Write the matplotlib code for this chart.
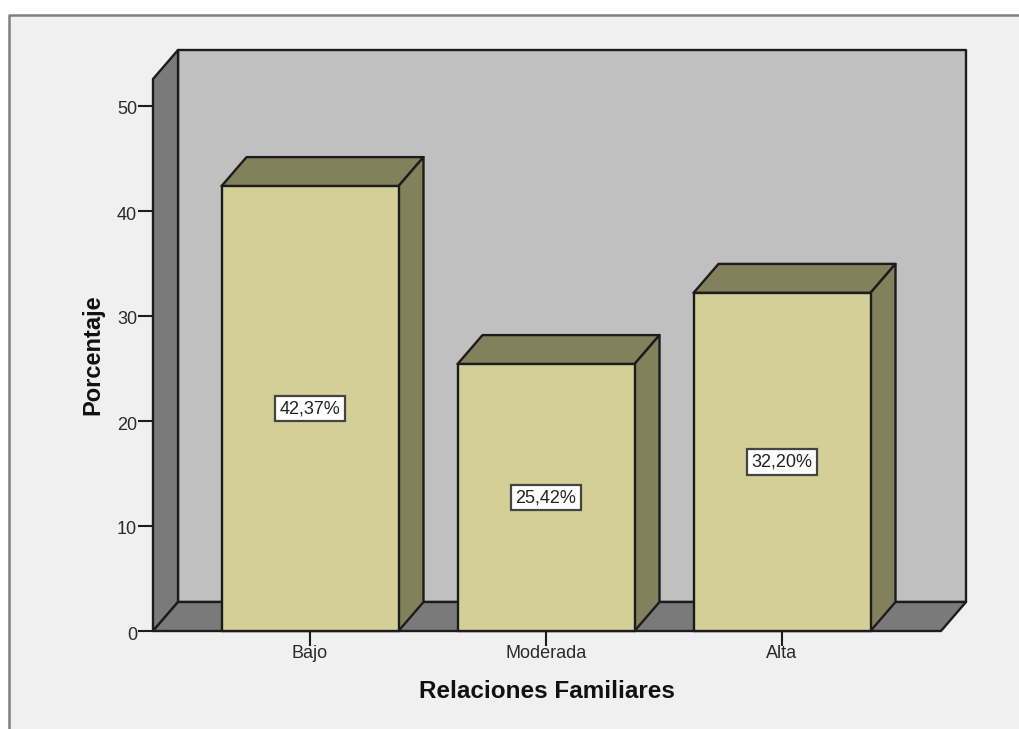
import numpy as np
import matplotlib
matplotlib.use("Agg")
import matplotlib.pyplot as plt
from matplotlib.patches import Polygon, Rectangle
from matplotlib.transforms import ScaledTranslation

plt.rcParams['font.family'] = ['Liberation Sans', 'DejaVu Sans']

# Daten
categorias = ["Bajo", "Moderada", "Alta"]
porcentajes = [42.37, 25.42, 32.20]
etiquetas = ["42,37%", "25,42%", "32,20%"]
yticks = [0, 10, 20, 30, 40, 50]

W, H = 1019, 729
# Achsen-Rahmen in Pixeln (vordere Ebene)
px_left, px_right, px_bottom, px_top = 153, 941, 631, 79
px_per_cat = 236.0
px_per_val = 10.5
x_first = 310

ancho = 177 / px_per_cat
dx = 25 / px_per_cat     # Tiefe in x
dy = 29 / px_per_val     # Tiefe in y

borde = '#1c1c1c'
lw = 1.7

fig = plt.figure(figsize=(W / 100, H / 100), dpi=100, facecolor='white')

# Fensterhintergrund
fig.patches.append(Rectangle((9 / W, 0), (W - 9) / W, (H - 15) / H, transform=fig.transFigure,
                             facecolor='#f0f0f0', edgecolor='none', zorder=-2))
fig.add_artist(plt.Line2D([9 / W, 9 / W, 1], [0, 1 - 15 / H, 1 - 15 / H],
                          color='#808080', lw=1.8))

ax = fig.add_axes([px_left / W, 1 - px_bottom / H, (px_right - px_left) / W, (px_bottom - px_top) / H])
ax.patch.set_alpha(0)
xmin = (px_left - x_first) / px_per_cat
xmax = (px_right - x_first) / px_per_cat
ymax = (px_bottom - px_top) / px_per_val
ax.set_xlim(xmin, xmax)
ax.set_ylim(0, ymax)


def poly(pts, color, z):
    ax.add_patch(Polygon(pts, closed=True, facecolor=color, edgecolor=borde, lw=lw,
                         joinstyle='round', clip_on=False, zorder=z))


# Rueckwand, Seitenwand, Boden
poly([(xmin + dx, dy), (xmax + dx, dy), (xmax + dx, ymax + dy), (xmin + dx, ymax + dy)], '#c0c0c0', 1)
poly([(xmin, 0), (xmin + dx, dy), (xmin + dx, ymax + dy), (xmin, ymax)], '#7a7a7a', 2)
poly([(xmin, 0), (xmax, 0), (xmax + dx, dy), (xmin + dx, dy)], '#7a7a7a', 2)

# Balken
for i, v in enumerate(porcentajes):
    l, r = i - ancho / 2, i + ancho / 2
    poly([(l, v), (r, v), (r + dx, v + dy), (l + dx, v + dy)], '#83805c', 3)
    poly([(r, 0), (r + dx, dy), (r + dx, v + dy), (r, v)], '#83805c', 3)
    ax.bar(i, v, width=ancho, color='#d3cf97', edgecolor=borde, lw=lw, zorder=4, clip_on=False)
    ax.text(i, v / 2, etiquetas[i], ha='center', va='center', fontsize=13, color='#222222', zorder=6,
            bbox=dict(boxstyle='square,pad=0.24', facecolor='white', edgecolor='#444444', lw=1.6))

for s in ['top', 'right', 'bottom', 'left']:
    ax.spines[s].set_visible(False)

ax.set_xticks(range(len(categorias)))
ax.set_xticklabels(categorias)
ax.set_yticks(yticks)
ax.tick_params(axis='both', length=11, width=1.5, color=borde, labelcolor='#2a2a2a', labelsize=13)
ax.tick_params(axis='x', pad=-1)
ax.tick_params(axis='y', pad=0.5)

# Y-Beschriftung sitzt im Original etwas unter dem Strich
versatz = ScaledTranslation(0, -2 / 100, fig.dpi_scale_trans)
for t in ax.get_yticklabels():
    t.set_transform(t.get_transform() + versatz)

fig.text(93 / W, 1 - 355 / H, "Porcentaje", rotation=90, ha='center', va='center',
         fontsize=17, fontweight='bold', color='#111111')
fig.text(547 / W, 1 - 691.5 / H, "Relaciones Familiares", ha='center', va='center',
         fontsize=17.5, fontweight='bold', color='#111111')

fig.savefig("out.png", dpi=100, facecolor=fig.get_facecolor())
